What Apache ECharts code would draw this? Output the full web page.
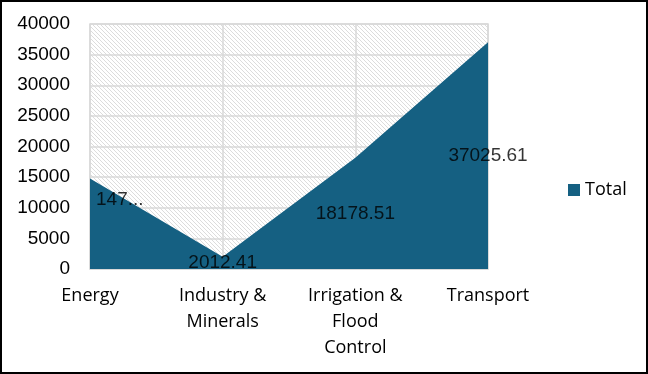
<!DOCTYPE html>
<html><head><meta charset="utf-8">
<script src="https://cdn.jsdelivr.net/npm/echarts@6/dist/echarts.min.js"></script>
<style>
html,body{margin:0;padding:0;background:#fff;}
#frame{position:absolute;left:0;top:0;width:644px;height:370px;border:2px solid #000;}
#chart{position:absolute;left:0;top:0;width:648px;height:374px;}
</style></head><body>
<div id="chart"></div>
<div id="frame"></div>
<script>
const categories = ['Energy', 'Industry &\nMinerals', 'Irrigation &\nFlood\nControl', 'Transport'];
const totals = [14760, 2012.41, 18178.51, 37025.61];
const labelTexts = ['147...', '2012.41', '18178.51', '37025.61'];
const seriesName = 'Total';

// hatch pattern
const tile = document.createElement('canvas');
tile.width = 4; tile.height = 4;
const tctx = tile.getContext('2d');
tctx.fillStyle = '#ffffff'; tctx.fillRect(0,0,4,4);
tctx.fillStyle = '#dcdcdc';
for (let i = 0; i < 4; i++) tctx.fillRect(i, i, 1, 1);

const chart = echarts.init(document.getElementById('chart'), null, {renderer: 'canvas'});
const labelData = totals.map((v, i) => {
  const item = {value: v / 2, label: {formatter: labelTexts[i]}};
  if (i === 0) item.label = {formatter: labelTexts[i], align: 'left', offset: [6, -24]};
  return item;
});
chart.setOption({
  animation: false,
  grid: {left: 90, top: 24, width: 398, height: 245, show: true,
         backgroundColor: {image: tile, repeat: 'repeat'},
         borderColor: '#d9d9d9', borderWidth: 1.5},
  legend: {data: [{name: seriesName, icon: 'rect'}], left: 563, top: 176, itemWidth: 12, itemHeight: 12,
           itemGap: 6, textStyle: {fontFamily: 'Open Sans', fontSize: 18, color: '#000'}},
  xAxis: {type: 'category', data: categories, boundaryGap: false,
          axisLine: {lineStyle: {color: '#d9d9d9', width: 1.5}}, axisTick: {show: false},
          splitLine: {show: true, lineStyle: {color: '#d9d9d9', width: 1.5}},
          axisLabel: {fontFamily: 'Open Sans', fontSize: 18, color: '#000', lineHeight: 26, margin: 14,
                      interval: 0}},
  yAxis: {type: 'value', min: 0, max: 40000, interval: 5000,
          axisLine: {show: false}, axisTick: {show: false},
          splitLine: {lineStyle: {color: '#d9d9d9', width: 1.5}},
          axisLabel: {fontFamily: 'Liberation Sans', fontSize: 19, color: '#000', margin: 20,
                      formatter: v => String(v)}},
  series: [
    {name: seriesName, type: 'line', data: totals, symbol: 'none', z: 2,
     lineStyle: {width: 0}, itemStyle: {color: '#156082'},
     areaStyle: {color: '#156082', opacity: 1}},
    {name: 'labels', type: 'scatter', data: labelData, symbolSize: 0, silent: true, z: 10,
     label: {show: true, position: 'inside', fontFamily: 'Liberation Sans', fontSize: 19, color: '#000'}}
  ]
});
</script></body></html>
